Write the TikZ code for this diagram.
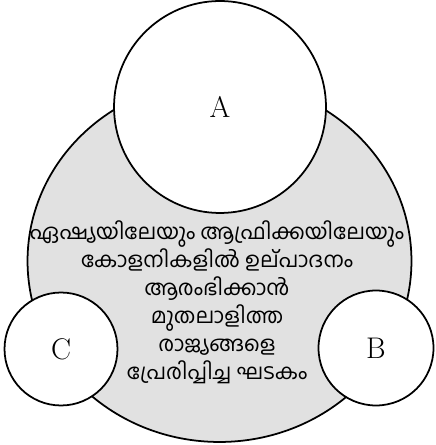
\documentclass[tikz,border=0pt]{standalone}
\usepackage{fontspec}
\usepackage{tikz}
\usetikzlibrary{shapes.geometric}
\newfontfamily\malfont[Script=Malayalam]{Hind Kochi}
\definecolor{ringGray}{RGB}{225,225,225}
\tikzset{
  part/.style={circle,draw=black,fill=white,line width=1pt,inner sep=0pt,
    font=\fontsize{17}{20}\selectfont},
}

\begin{document}
\begin{tikzpicture}[x=0.02cm,y=-0.02cm]
\useasboundingbox (0,0) rectangle (435,445);
\node[ellipse,draw=black,fill=ringGray,line width=1pt,minimum width=7.68cm,minimum height=7.24cm] (whole) at (219.5,261) {};
\node[part,minimum size=4.24cm] (A) at (220,107) {A};
\node[part,minimum size=2.3cm] (B) at (376,348) {B};
\node[part,minimum size=2.26cm] (C) at (61,349) {C};
\node[align=center,font=\malfont\fontsize{12.1}{15.9}\selectfont] (factor) at (217,302) {
ഏഷ്യയിലേയും ആഫ്രിക്കയിലേയും\\
കോളനികളിൽ ഉല്പാദനം\\
ആരംഭിക്കാൻ\\
മുതലാളിത്ത\\
രാജ്യങ്ങളെ\\
പ്രേരിപ്പിച്ച ഘടകം};
\end{tikzpicture}
\end{document}
